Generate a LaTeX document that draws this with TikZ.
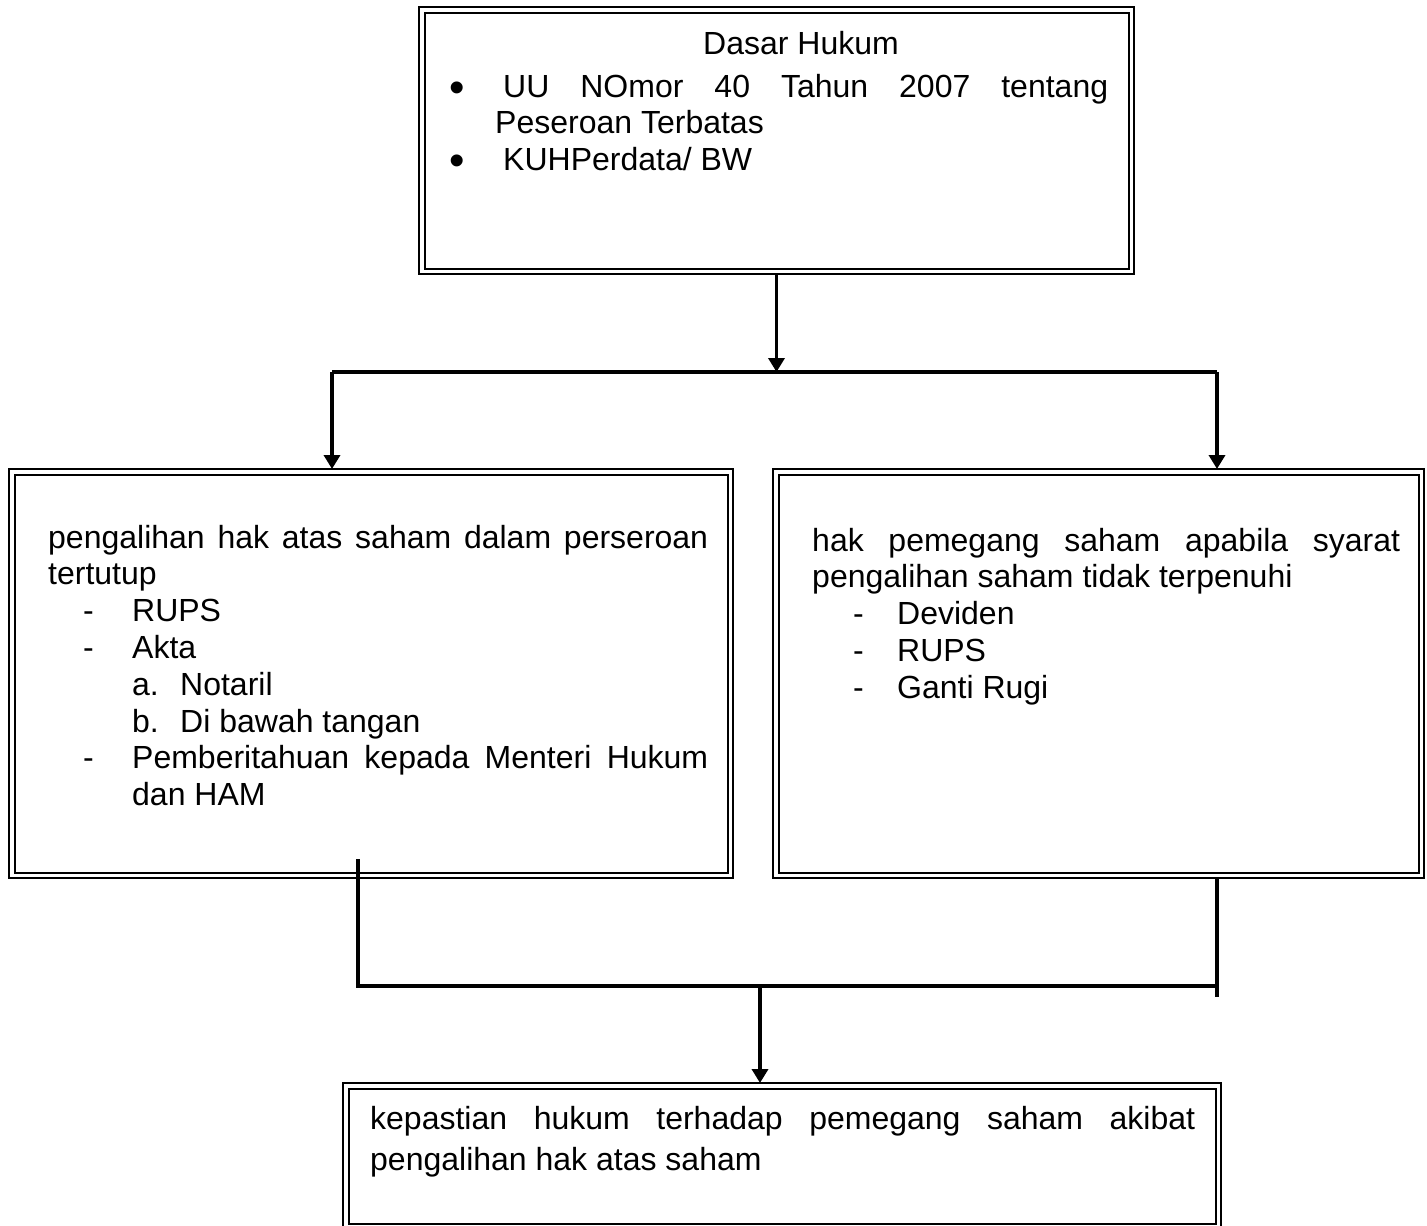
\documentclass[tikz,border=0pt]{standalone}
\usepackage{fontspec}
\setmainfont{Liberation Sans}
\usetikzlibrary{arrows.meta}

\hyphenpenalty=10000
\tolerance=10000
\newcommand{\dashitem}[3]{{\leftskip=#1\noindent\llap{\makebox[#2][l]{-}}#3\par}}
\newcommand{\letteritem}[3]{{\leftskip=#1\noindent\makebox[48pt][l]{#2}#3\par}}
\newcommand{\bigbullet}{\raisebox{-5pt}{\fontsize{44}{44}\selectfont\textbullet}}
\newcommand{\bulletitem}[1]{{\noindent\llap{\makebox[46pt][l]{\bigbullet}}\hspace*{8pt}#1\par}}

\begin{document}
\begin{tikzpicture}[
    x=1pt, y=-1pt,
    frame/.style={rectangle, draw, line width=2.8pt, outer sep=0pt, inner sep=0pt,
        path picture={\draw[line width=2pt]
            ([shift={(5.5pt,-5.5pt)}]path picture bounding box.north west) rectangle
            ([shift={(-5.5pt,5.5pt)}]path picture bounding box.south east);}},
    txt/.style={anchor=base west, inner sep=0pt, font=\fontsize{32}{36.8}\selectfont},
    para/.style={txt, align=justify, text width=#1},
    line/.style={line width=3.5pt},
    arrow/.style={line width=3.5pt, -{Triangle[length=14pt, width=16pt]}}
]
\useasboundingbox (0,0) rectangle (1427,1226);

% Boxes
\node[frame, minimum width=715pt, minimum height=267pt] (top) at (776.5,140.5) {};
\node[frame, minimum width=724pt, minimum height=409pt] (left) at (371,673.5) {};
\node[frame, minimum width=651pt, minimum height=409pt] (right) at (1098.5,673.5) {};
\node[frame, minimum width=878pt, minimum height=146pt] (bottom) at (782,1156) {};

% Texts
\node[txt, anchor=base] (title) at (801,54) {Dasar Hukum};
\node[para=613pt] (dasar) at (495,97) {%
    \bulletitem{UU NOmor 40 Tahun 2007 tentang\linebreak Peseroan Terbatas}%
    \bulletitem{KUHPerdata/ BW}};
\node[para=660pt] (syarat) at (48,548) {%
    pengalihan hak atas saham dalam perseroan\linebreak tertutup\par
    \dashitem{84pt}{49pt}{RUPS}
    \dashitem{84pt}{49pt}{Akta}
    \letteritem{84pt}{a.}{Notaril}
    \letteritem{84pt}{b.}{Di bawah tangan}
    \dashitem{84pt}{49pt}{Pemberitahuan kepada Menteri Hukum\linebreak dan HAM}};
\node[para=588pt] (hak) at (812,551) {%
    hak pemegang saham apabila syarat\linebreak pengalihan saham tidak terpenuhi\par
    \dashitem{85pt}{44pt}{Deviden}
    \dashitem{85pt}{44pt}{RUPS}
    \dashitem{85pt}{44pt}{Ganti Rugi}};
\node[para=825pt, font=\fontsize{32}{41}\selectfont] (kepastian) at (370,1129) {%
    kepastian hukum terhadap pemegang saham akibat\linebreak pengalihan hak atas saham};

% Junctions
\coordinate (split) at (776.5,372);
\coordinate (splitL) at (332,372);
\coordinate (splitR) at (1217,372);
\coordinate (joinL) at (358,859);
\coordinate (mergeL) at (358,986);
\coordinate (mergeR) at (1217,986);
\coordinate (endR) at (1217,997);
\coordinate (merge) at (760,986);

% Arrows
\draw[arrow] (top) -- (split);
\draw[line] (splitL) -- (splitR);
\draw[arrow] (splitL) -- (splitL |- left.north);
\draw[arrow] (splitR) -- (splitR |- right.north);
\draw[line] (joinL) -- (mergeL) -- (mergeR);
\draw[line] (mergeR |- right.south) -- (endR);
\draw[arrow] (merge) -- (merge |- bottom.north);

\end{tikzpicture}
\end{document}
